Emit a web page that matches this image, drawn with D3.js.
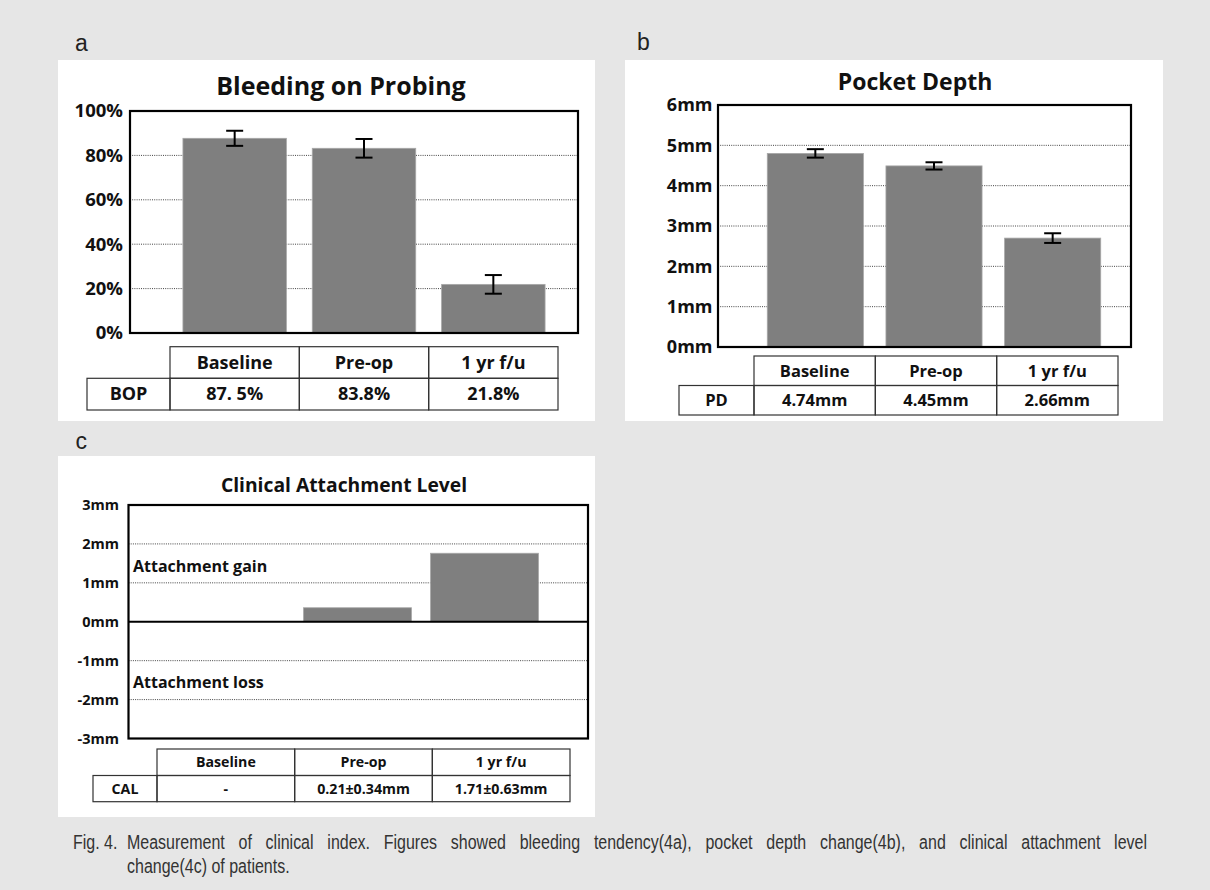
<!DOCTYPE html>
<html>
<head>
<meta charset="utf-8">
<script src="https://cdn.jsdelivr.net/npm/d3@7"></script>
<style>
    body { margin: 0; background: #e6e6e6; }
    svg text { font-family: "Open Sans", "Noto Sans", sans-serif; fill: #111; }
    .letter { font-family: "Liberation Sans", sans-serif !important; fill: #222; }
    .caption { font-family: "Liberation Sans", "Arimo", sans-serif !important; fill: #333; }
</style>
</head>
<body>
<svg id="fig" width="1210" height="890"></svg>
<script>
// categories shared by the three panels
var categories = ["Baseline", "Pre-op", "1 yr f/u"];

// a - bleeding on probing (%)
var bopValues = [87.7, 83.2, 21.9];
var bopErrors = [3.4, 4.2, 4.2];
var bopLabels = ["87. 5%", "83.8%", "21.8%"];
var bopTicks = [0, 20, 40, 60, 80, 100];

// b - pocket depth (mm)
var pdValues = [4.80, 4.49, 2.70];
var pdErrors = [0.105, 0.09, 0.12];
var pdLabels = ["4.74mm", "4.45mm", "2.66mm"];
var pdTicks = [0, 1, 2, 3, 4, 5, 6];

// c - clinical attachment level (mm), no bar at baseline
var calValues = [null, 0.36, 1.76];
var calLabels = ["-", "0.21\u00b10.34mm", "1.71\u00b10.63mm"];
var calTicks = [-3, -2, -1, 0, 1, 2, 3];

var captionHead = "Fig. 4.";
var captionLine1 = "Measurement of clinical index. Figures showed bleeding tendency(4a), pocket depth change(4b), and clinical attachment level";
var captionLine2 = "change(4c) of patients.";

var svg = d3.select("#fig");

svg.append("rect")
    .attr("width", 1210)
    .attr("height", 890)
    .attr("fill", "#e6e6e6");

function drawPanel(p) {
    var g = svg.append("g");

    // white card
    g.append("rect")
        .attr("x", p.box[0])
        .attr("y", p.box[1])
        .attr("width", p.box[2] - p.box[0])
        .attr("height", p.box[3] - p.box[1])
        .attr("fill", "#fff");

    // panel letter
    svg.append("text")
        .attr("class", "letter")
        .attr("x", p.letter[0])
        .attr("y", p.letter[1])
        .style("font-size", "23px")
        .text(p.letter[2]);

    // title
    g.append("text")
        .attr("x", p.title[0])
        .attr("y", p.title[1])
        .style("text-anchor", "middle")
        .style("font-size", p.title[2] + "px")
        .style("font-weight", 700)
        .text(p.title[3]);

    var y = d3.scaleLinear()
        .domain(p.domain)
        .range([p.plot.bottom, p.plot.top]);

    var x = d3.scaleBand()
        .domain(categories)
        .range(p.barRange)
        .paddingInner(p.pad)
        .paddingOuter(p.pad / 2);

    // dotted gridlines
    g.selectAll(".grid")
        .data(p.ticks.filter(function (t) { return t != p.domain[0] && t != p.domain[1] && t != 0; }))
        .enter().append("line")
        .attr("x1", p.plot.left)
        .attr("x2", p.plot.right)
        .attr("y1", function (d) { return y(d); })
        .attr("y2", function (d) { return y(d); })
        .attr("stroke", "#444")
        .attr("stroke-width", 1)
        .attr("stroke-dasharray", "1,1.2");

    // bars
    var barData = categories.map(function (c, i) { return {cat: c, v: p.values[i], e: p.errors ? p.errors[i] : null}; })
        .filter(function (d) { return d.v != null; });

    g.selectAll(".bar")
        .data(barData)
        .enter().append("rect")
        .attr("x", function (d) { return x(d.cat); })
        .attr("width", x.bandwidth())
        .attr("y", function (d) { return y(Math.max(0, d.v)); })
        .attr("height", function (d) { return Math.abs(y(d.v) - y(0)); })
        .attr("fill", "#7f7f7f")
        .attr("stroke", "#a8a8a8")
        .attr("stroke-width", 0.8);

    // error bars
    if (p.errors) {
        var err = g.selectAll(".err")
            .data(barData)
            .enter().append("g")
            .attr("stroke", "#000")
            .attr("stroke-width", 2);
        err.append("line")
            .attr("x1", function (d) { return x(d.cat) + x.bandwidth() / 2; })
            .attr("x2", function (d) { return x(d.cat) + x.bandwidth() / 2; })
            .attr("y1", function (d) { return y(d.v + d.e); })
            .attr("y2", function (d) { return y(d.v - d.e); });
        [1, -1].forEach(function (s) {
            err.append("line")
                .attr("x1", function (d) { return x(d.cat) + x.bandwidth() / 2 - 8.5; })
                .attr("x2", function (d) { return x(d.cat) + x.bandwidth() / 2 + 8.5; })
                .attr("y1", function (d) { return y(d.v + s * d.e); })
                .attr("y2", function (d) { return y(d.v + s * d.e); });
        });
    }

    // zero line when the axis crosses zero
    if (p.domain[0] < 0) {
        g.append("line")
            .attr("x1", p.plot.left)
            .attr("x2", p.plot.right)
            .attr("y1", y(0))
            .attr("y2", y(0))
            .attr("stroke", "#000")
            .attr("stroke-width", 2);
    }

    // plot frame
    g.append("rect")
        .attr("x", p.plot.left)
        .attr("y", p.plot.top)
        .attr("width", p.plot.right - p.plot.left)
        .attr("height", p.plot.bottom - p.plot.top)
        .attr("fill", "none")
        .attr("stroke", "#000")
        .attr("stroke-width", 2.2);

    // y axis labels
    var axis = g.append("g")
        .attr("transform", "translate(" + p.plot.left + ",0)")
        .call(d3.axisLeft(y)
            .tickValues(p.ticks)
            .tickFormat(p.fmt)
            .tickSize(0)
            .tickPadding(p.tickPad));
    axis.select(".domain").remove();
    axis.selectAll("text")
        .style("font-family", "'Open Sans', sans-serif")
        .style("font-size", p.tickSize + "px")
        .style("font-weight", 700)
        .attr("fill", "#111");

    // data table under the chart
    var t = p.table;
    var tx = d3.scaleBand().domain(categories).range(t.range);
    var rowH = [t.rows[1] - t.rows[0], t.rows[2] - t.rows[1]];
    var cell = {stroke: "#333", width: 1.2};

    g.selectAll(".hcell")
        .data(categories)
        .enter().append("rect")
        .attr("x", function (d) { return tx(d); })
        .attr("y", t.rows[0])
        .attr("width", tx.bandwidth())
        .attr("height", rowH[0])
        .attr("fill", "none")
        .attr("stroke", cell.stroke)
        .attr("stroke-width", cell.width);

    g.selectAll(".vcell")
        .data(categories)
        .enter().append("rect")
        .attr("x", function (d) { return tx(d); })
        .attr("y", t.rows[1])
        .attr("width", tx.bandwidth())
        .attr("height", rowH[1])
        .attr("fill", "none")
        .attr("stroke", cell.stroke)
        .attr("stroke-width", cell.width);

    g.append("rect")
        .attr("x", t.left)
        .attr("y", t.rows[1])
        .attr("width", t.range[0] - t.left)
        .attr("height", rowH[1])
        .attr("fill", "none")
        .attr("stroke", cell.stroke)
        .attr("stroke-width", cell.width);

    g.selectAll(".htext")
        .data(categories)
        .enter().append("text")
        .attr("x", function (d) { return tx(d) + tx.bandwidth() / 2; })
        .attr("y", t.rows[0] + rowH[0] / 2)
        .attr("dy", "0.35em")
        .style("text-anchor", "middle")
        .style("font-size", t.size + "px")
        .style("font-weight", 700)
        .text(function (d) { return d; });

    g.selectAll(".vtext")
        .data(t.labels)
        .enter().append("text")
        .attr("x", function (d, i) { return tx(categories[i]) + tx.bandwidth() / 2; })
        .attr("y", t.rows[1] + rowH[1] / 2)
        .attr("dy", "0.35em")
        .style("text-anchor", "middle")
        .style("font-size", t.size + "px")
        .style("font-weight", 700)
        .text(function (d) { return d; });

    g.append("text")
        .attr("x", (t.left + t.range[0]) / 2)
        .attr("y", t.rows[1] + rowH[1] / 2)
        .attr("dy", "0.35em")
        .style("text-anchor", "middle")
        .style("font-size", t.size + "px")
        .style("font-weight", 700)
        .text(t.label);

    return {g: g, y: y};
}

drawPanel({
    box: [58, 60, 595, 421],
    letter: [75, 51, "a"],
    title: [341, 94.5, 25, "Bleeding on Probing"],
    plot: {left: 130, right: 578, top: 111, bottom: 333},
    domain: [0, 100],
    ticks: bopTicks,
    fmt: function (d) { return d + "%"; },
    tickSize: 18.5,
    tickPad: 7,
    barRange: [170, 558],
    pad: 0.2,
    values: bopValues,
    errors: bopErrors,
    table: {left: 87, range: [170, 558], rows: [346.7, 378.3, 410], label: "BOP", size: 18, labels: bopLabels}
});

drawPanel({
    box: [625, 60, 1163, 421],
    letter: [637, 50, "b"],
    title: [915, 90, 23, "Pocket Depth"],
    plot: {left: 718, right: 1131, top: 105, bottom: 347},
    domain: [0, 6],
    ticks: pdTicks,
    fmt: function (d) { return d + "mm"; },
    tickSize: 18,
    tickPad: 5.5,
    barRange: [756, 1112],
    pad: 0.19,
    values: pdValues,
    errors: pdErrors,
    table: {left: 679, range: [754, 1118], rows: [356, 385.5, 415], label: "PD", size: 16.5, labels: pdLabels}
});

var panelC = drawPanel({
    box: [58, 456, 595, 817],
    letter: [75.5, 448.5, "c"],
    title: [344, 491.5, 19.3, "Clinical Attachment Level"],
    plot: {left: 128.5, right: 588, top: 505, bottom: 738.5},
    domain: [-3, 3],
    ticks: calTicks,
    fmt: function (d) { return d + "mm"; },
    tickSize: 14.5,
    tickPad: 9.5,
    barRange: [167, 548],
    pad: 0.15,
    values: calValues,
    errors: null,
    table: {left: 93, range: [157, 570], rows: [749, 775.5, 801.7], label: "CAL", size: 14.2, labels: calLabels}
});

// region labels in panel c
panelC.g.append("text")
    .attr("x", 133)
    .attr("y", 571.5)
    .style("font-size", "16px")
    .style("font-weight", 700)
    .text("Attachment gain");

panelC.g.append("text")
    .attr("x", 133)
    .attr("y", 687.5)
    .style("font-size", "16px")
    .style("font-weight", 700)
    .text("Attachment loss");

// caption: narrow type made by squeezing Liberation Sans, first line justified
var squeeze = 0.82;

function captionText(x, yPos, str) {
    return svg.append("text")
        .attr("class", "caption")
        .attr("transform", "translate(" + x + "," + yPos + ") scale(" + squeeze + ",1)")
        .style("font-size", "19.5px")
        .text(str);
}

captionText(73, 849, captionHead);

var line1 = captionText(127, 849, captionLine1);
var target = (1147 - 127) / squeeze;
var natural = line1.node().getComputedTextLength();
var spaces = captionLine1.split(" ").length - 1;
var extra = (target - natural) / spaces;
if (extra >= 0) {
    line1.attr("word-spacing", extra);
} else {
    line1.attr("textLength", target).attr("lengthAdjust", "spacingAndGlyphs");
}

captionText(127, 873, captionLine2);
</script>
</body>
</html>
